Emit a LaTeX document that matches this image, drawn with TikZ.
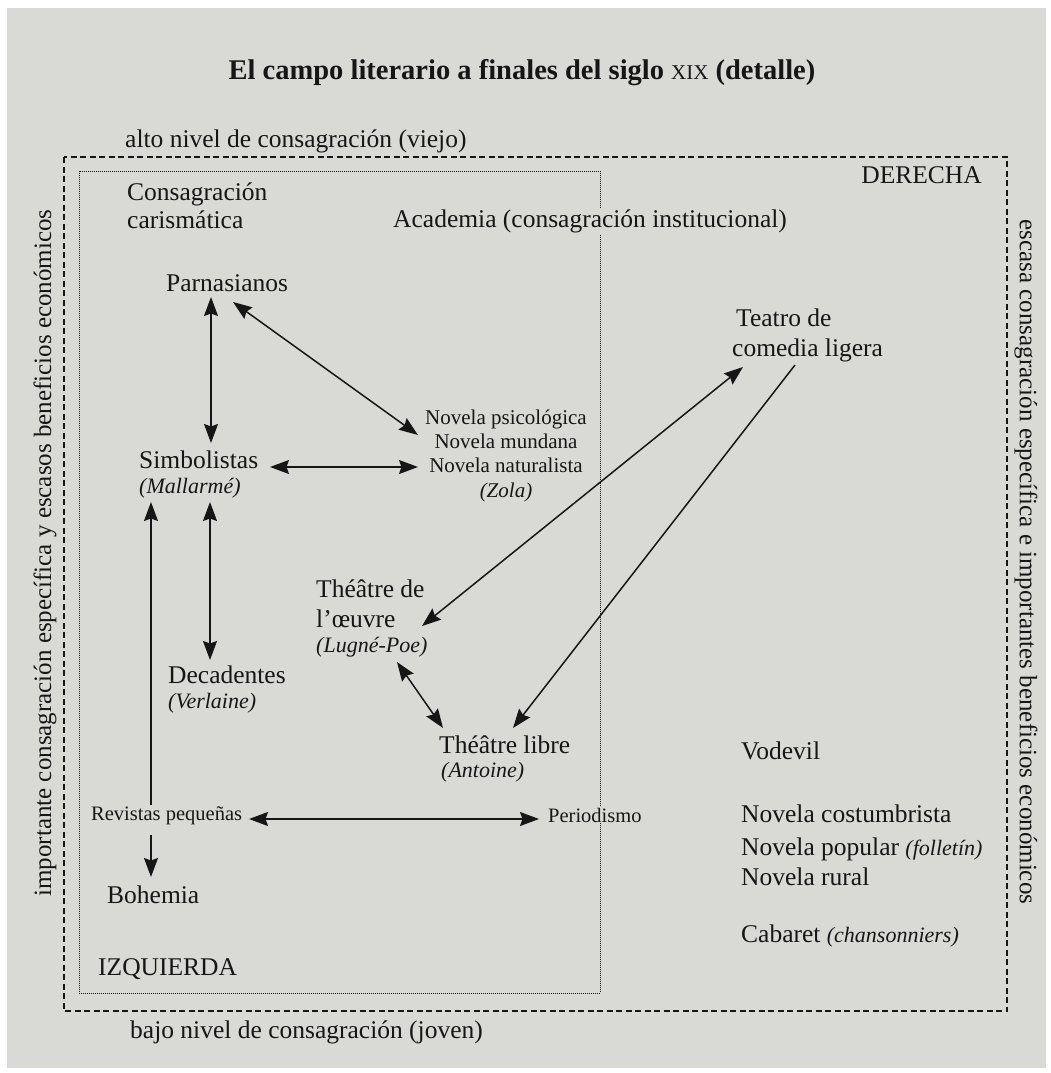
\documentclass[tikz,border=0pt]{standalone}
\usepackage{fontspec}
\setmainfont{Liberation Serif}
\usetikzlibrary{arrows.meta,calc}
\definecolor{bg}{RGB}{217,217,214}
\definecolor{ink}{RGB}{22,22,22}
\begin{document}
\begin{tikzpicture}[x=1pt,y=-1pt,
  txt/.style={font=\fontsize{25.5}{30}\selectfont, text=ink, inner sep=1pt, fill=bg, anchor=base west},
  sml/.style={txt, font=\fontsize{20.5}{24}\selectfont},
  nov/.style={txt, font=\fontsize{21}{24}\selectfont, anchor=base},
  itl/.style={txt, font=\fontsize{22}{26}\selectfont\itshape},
  vert/.style={txt, font=\fontsize{25}{28}\selectfont, anchor=center},
  ttl/.style={txt, font=\fontsize{28.5}{32}\selectfont\bfseries, anchor=base},
  outerbox/.style={draw=ink, line width=1.3pt, dash pattern=on 6pt off 3.5pt},
  innerbox/.style={draw=ink, line width=0.7pt, dash pattern=on 0.8pt off 1.2pt},
  tipA/.tip={Stealth[length=19pt,width=14pt,inset=2.5pt]},
  arr/.style={-tipA, line width=1.5pt, draw=ink},
  darr/.style={tipA-tipA, line width=1.5pt, draw=ink}]
% page
\fill[white] (0,0) rectangle (1050,1073);
\fill[bg] (7,8) rectangle (1046,1068);
\useasboundingbox (0,0) rectangle (1050,1073);
% frames
\draw[outerbox] (64,157) rectangle (1007,1011);
\draw[innerbox] (79,171) rectangle (600,993);
% title and axis labels
\node[ttl] (titulo) at (522,79) {El campo literario a finales del siglo {\mdseries\fontsize{21}{22}\selectfont XIX} (detalle)};
\node[txt] (alto) at (124,147) {alto nivel de consagración (viejo)};
\node[txt] (bajo) at (129,1038) {bajo nivel de consagración (joven)};
\node[vert, rotate=90] (izqeje) at (45,553) {importante consagración específica y escasos beneficios económicos};
\node[vert, rotate=-90] (dereje) at (1026,562) {escasa consagración específica e importantes beneficios económicos};
\node[txt, anchor=base east] (derecha) at (983,183) {DERECHA};
\node[txt] (izquierda) at (97,975) {IZQUIERDA};
% left region
\node[txt] (consag) at (126,200) {Consagración};
\node[txt] (carism) at (126,228) {carismática};
\node[txt] (academia) at (392,227) {Academia (consagración institucional)};
\node[txt] (parn) at (165,291) {Parnasianos};
\node[nov] (psico) at (506,424) {Novela psicológica};
\node[nov] (mund) at (506,448) {Novela mundana};
\node[nov] (natur) at (506,472) {Novela naturalista};
\node[nov, font=\fontsize{21}{24}\selectfont\itshape] (zola) at (506,497) {(Zola)};
\node[txt] (simb) at (138,468) {Simbolistas};
\node[itl] (mall) at (138,493) {(Mallarmé)};
\node[txt] (oeuv1) at (315,597) {Théâtre de};
\node[txt] (oeuv2) at (315,627) {l’œuvre};
\node[itl] (lugne) at (315,652) {(Lugné-Poe)};
\node[txt] (deca) at (167,683) {Decadentes};
\node[itl] (verl) at (167,708) {(Verlaine)};
\node[txt] (libre) at (438,753) {Théâtre libre};
\node[itl] (anto) at (440,777) {(Antoine)};
\node[sml] (revis) at (90,820) {Revistas pequeñas};
\node[sml] (perio) at (547,822) {Periodismo};
\node[txt] (bohe) at (106,903) {Bohemia};
% right region
\node[txt] (teat1) at (735,326) {Teatro de};
\node[txt] (teat2) at (731,356) {comedia ligera};
\node[txt] (vode) at (740,759) {Vodevil};
\node[txt] (costu) at (740,822) {Novela costumbrista};
\node[txt] (popu) at (740,855) {Novela popular {\fontsize{22}{26}\selectfont\itshape(folletín)}};
\node[txt] (rural) at (740,885) {Novela rural};
\node[txt] (caba) at (740,942) {Cabaret {\fontsize{22}{26}\selectfont\itshape(chansonniers)}};
% connectors
\draw[darr] ([shift={(46,6)}]parn.base west) -- ([shift={(73,-25)}]simb.base west);
\draw[darr] ([shift={(68,11)}]parn.base west) -- ([shift={(-88,11)}]psico.base);
\draw[darr] ([shift={(132,-1)}]simb.base west) -- ([shift={(-88,-5)}]natur.base);
\draw[darr] ([shift={(72,9)}]mall.base west) -- ([shift={(43,-23)}]deca.base west);
\draw[arr] ([shift={(61,-15)}]revis.base west) -- ([shift={(13,9)}]mall.base west);
\draw[arr] ([shift={(61,15)}]revis.base west) -- ([shift={(45,-26)}]bohe.base west);
\draw[darr] ([shift={(159,-1)}]revis.base west) -- ([shift={(-8,-3)}]perio.base west);
\draw[darr] ([shift={(107,-1)}]oeuv2.base west) -- ([shift={(12,11)}]teat2.base west);
\draw[arr] ([shift={(64,9)}]teat2.base west) -- ([shift={(75,-25)}]libre.base west);
\draw[darr] ([shift={(82,10)}]lugne.base west) -- ([shift={(5,-25)}]libre.base west);
\end{tikzpicture}
\end{document}
